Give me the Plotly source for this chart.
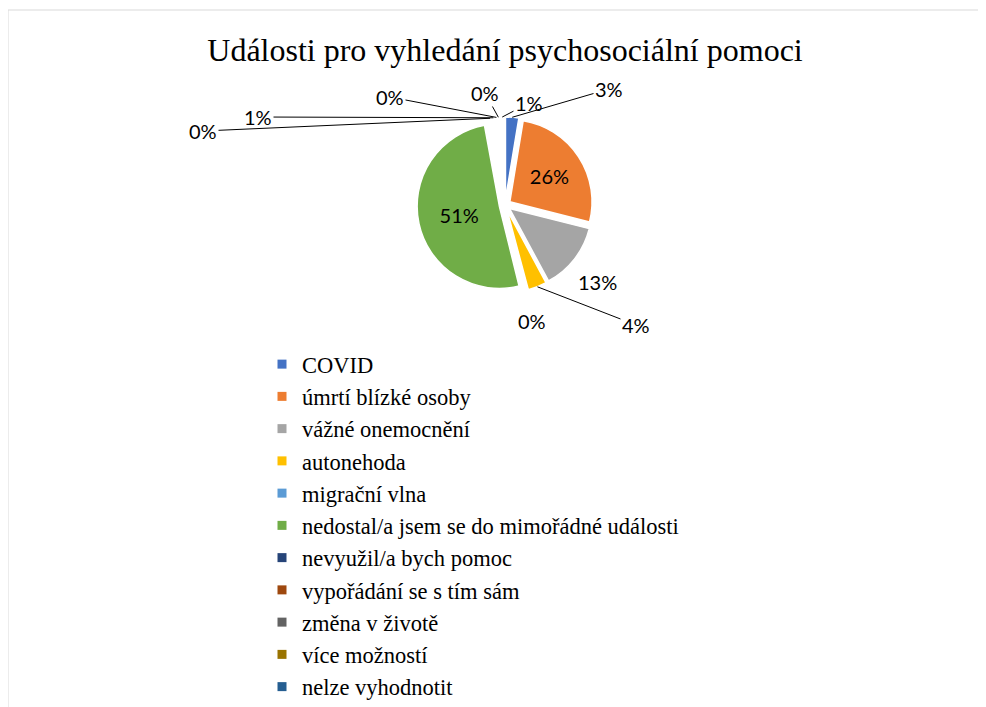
import math
import plotly.graph_objects as go

kategorie = [
    "COVID",
    "úmrtí blízké osoby",
    "vážné onemocnění",
    "autonehoda",
    "migrační vlna",
    "nedostal/a jsem se do mimořádné události",
    "nevyužil/a bych pomoc",
    "vypořádání se s tím sám",
    "změna v životě",
    "více možností",
    "nelze vyhodnotit",
]
podily = [2.6, 26.3, 13.2, 3.7, 0.3, 50.9, 0.4, 0.8, 0.3, 0.4, 1.0]
barvy = [
    "#4472C4", "#ED7D31", "#A5A5A5", "#FFC000", "#5B9BD5", "#70AD47",
    "#264478", "#9E480E", "#636363", "#997300", "#255E91",
]

# stranka ma okraj 8 px, graf je proto o ten kus mensi
OKRAJ = 8
W, H = 986 - OKRAJ, 707 - OKRAJ


def papir(px, py):
    # pixely okna -> souradnice papiru
    return (px - OKRAJ) / W, 1 - (py - OKRAJ) / H


# stred a polomer kolace v pixelech okna (vcetne vysunuti)
cx, cy, r_out = 505, 205, 88
vysunuti = 0.07

# pozice popisku mimo kolac (stred textu v px) a zda ma odkazovou caru
popisky_venku = {
    0: (609, 89, True),
    2: (597, 282, False),
    3: (636, 325, True),
    4: (532, 321, False),
    6: (203, 131, True),
    7: (258, 117, True),
    8: (390, 97, True),
    9: (485, 93, True),
    10: (529, 103, True),
}

# drobne vysece jsou v predloze bile, barvu maji jen v legende
barvy_vysece = [b if p >= 2 else "white" for b, p in zip(barvy, podily)]
text_uvnitr = ["%{percent:.0%}" if p > 20 else "" for p in podily]

x0, y0 = papir(cx - r_out, cy + r_out)
x1, y1 = papir(cx + r_out, cy - r_out)

fig = go.Figure()

fig.add_trace(
    go.Pie(
        labels=kategorie,
        values=podily,
        sort=False,
        direction="clockwise",
        rotation=0,
        pull=vysunuti,
        marker=dict(colors=barvy_vysece, line=dict(color="white", width=1.5)),
        texttemplate=text_uvnitr,
        textposition="inside",
        textfont=dict(family="Lato", size=20, color="black"),
        insidetextorientation="horizontal",
        showlegend=False,
        hoverinfo="label+percent",
        domain=dict(x=[x0, x1], y=[y0, y1]),
    )
)

# legenda zvlast, aby mely vsechny polozky svou barvu
for nazev, barva in zip(kategorie, barvy):
    fig.add_trace(
        go.Scatter(
            x=[None],
            y=[None],
            mode="markers",
            name=nazev,
            marker=dict(symbol="square", size=9, color=barva),
        )
    )

# popisky mimo kolac s odkazovymi carami
celkem = sum(podily)
kumul = 0
anotace = []
pismo = dict(family="Lato", size=20, color="black")
for i, p in enumerate(podily):
    stred_uhlu = (kumul + p / 2) / celkem * 2 * math.pi
    kumul += p
    if i not in popisky_venku:
        continue
    lx, ly, cara = popisky_venku[i]
    text = f"{round(p / celkem * 100):.0f}%"
    if cara:
        kx = cx + r_out * math.sin(stred_uhlu)
        ky = cy - r_out * math.cos(stred_uhlu)
        ax, ay = papir(kx, ky)
        anotace.append(
            dict(
                x=ax, y=ay, xref="paper", yref="paper",
                ax=lx - kx, ay=ly - ky,
                text=text, showarrow=True,
                arrowhead=0, arrowwidth=1, arrowcolor="black",
                font=pismo,
            )
        )
    else:
        tx, ty = papir(lx, ly)
        anotace.append(
            dict(
                x=tx, y=ty, xref="paper", yref="paper",
                text=text, showarrow=False, font=pismo,
            )
        )

lx0, ly0 = papir(262, 343)
tx0, ty0 = papir(505, 50)
rx0, ry0 = papir(8, 10)

fig.update_layout(
    width=W,
    height=H,
    margin=dict(l=0, r=0, t=0, b=0, autoexpand=False),
    paper_bgcolor="white",
    plot_bgcolor="white",
    title=dict(
        text="Události pro vyhledání psychosociální pomoci",
        x=tx0,
        xanchor="center",
        y=ty0,
        yanchor="middle",
        font=dict(family="Liberation Serif", size=32, color="black"),
    ),
    xaxis=dict(visible=False),
    yaxis=dict(visible=False),
    legend=dict(
        x=lx0,
        xanchor="left",
        y=ly0,
        yanchor="top",
        font=dict(family="Liberation Serif", size=22.5, color="black"),
        tracegroupgap=0,
        itemwidth=30,
    ),
    annotations=anotace,
    shapes=[
        dict(
            type="rect",
            xref="paper",
            yref="paper",
            x0=rx0,
            x1=1.05,
            y0=-0.05,
            y1=ry0,
            line=dict(color="#d9d9d9", width=1),
        )
    ],
)

fig.write_html("out.html")
